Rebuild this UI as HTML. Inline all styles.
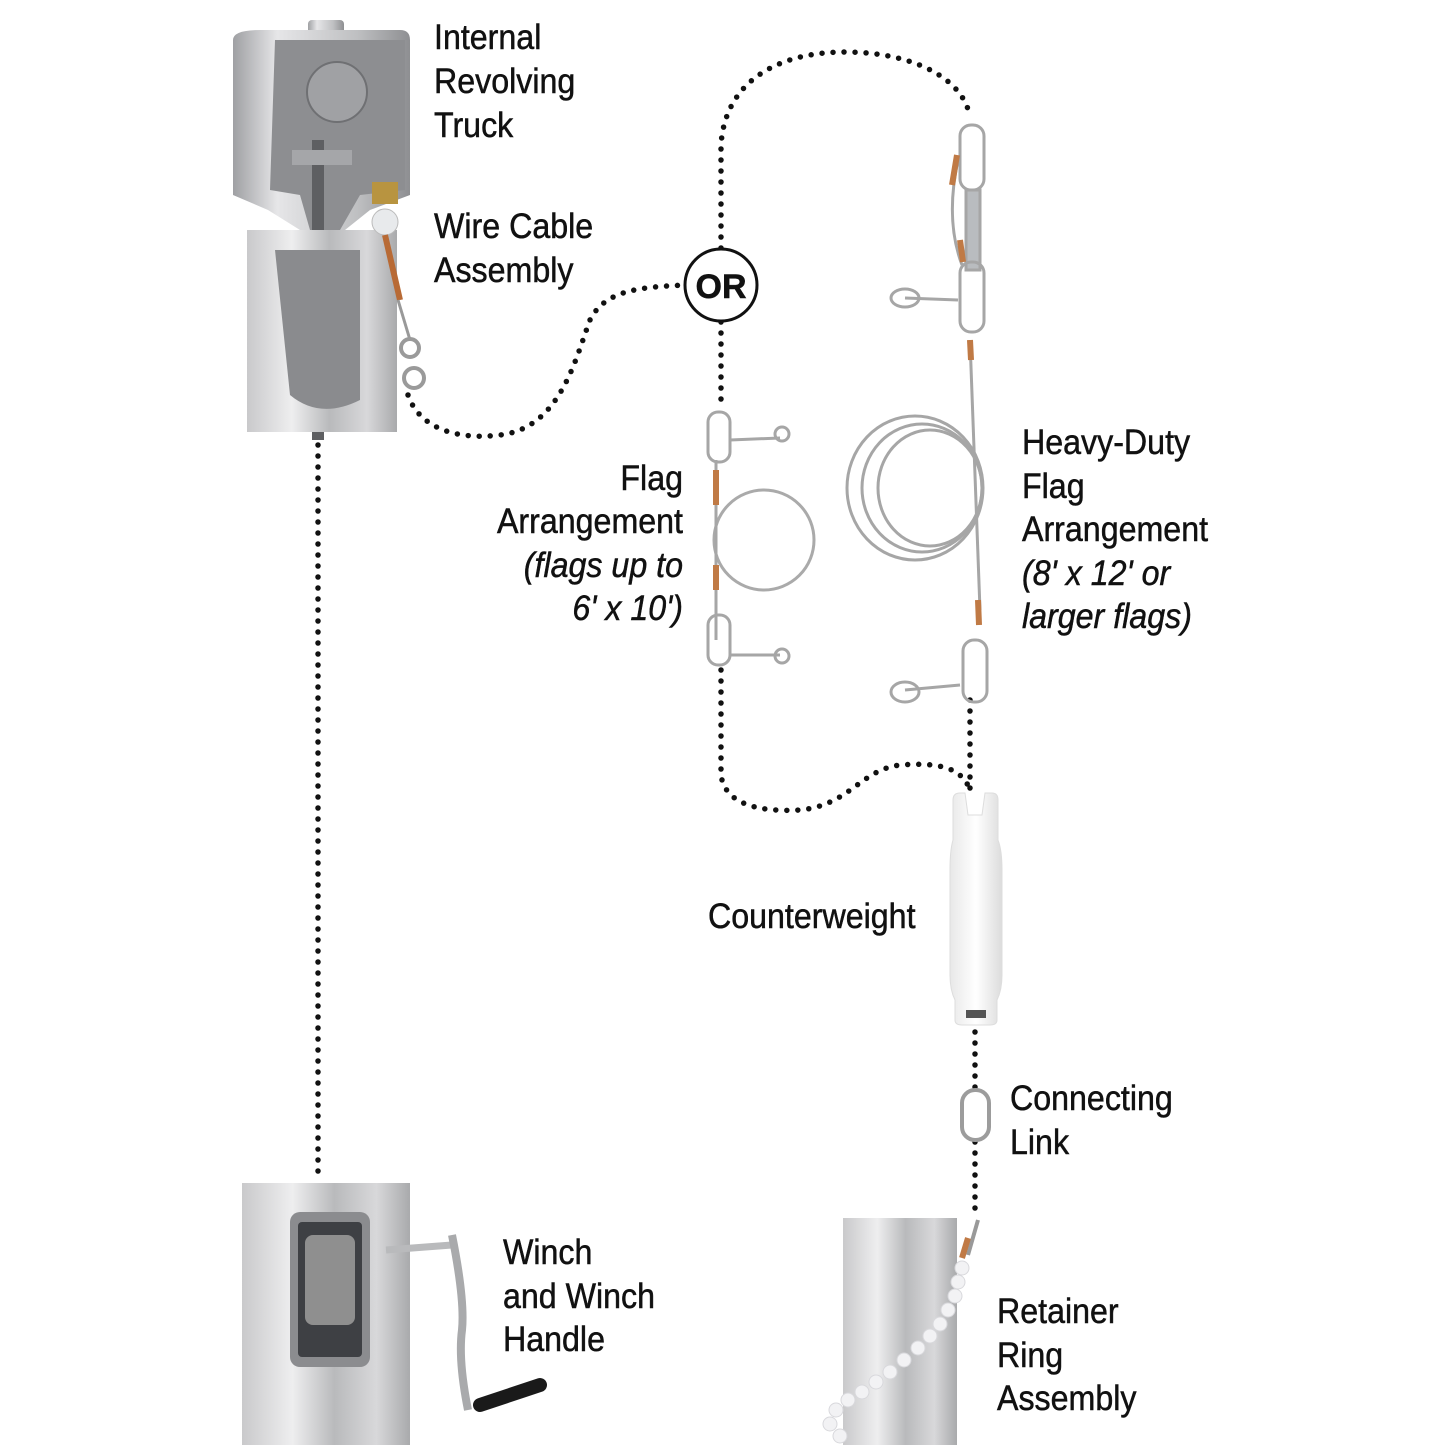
<!DOCTYPE html>
<html><head><meta charset="utf-8"><style>
html,body{margin:0;padding:0;background:#fff}
svg{display:block}
text{font-family:"Liberation Sans Narrow","Liberation Sans",sans-serif;font-size:35px;fill:#111;stroke:#111;stroke-width:0.5}
.i{font-style:italic}
</style></head><body>
<svg width="1445" height="1445" viewBox="0 0 1445 1445" xmlns="http://www.w3.org/2000/svg">
<defs>
<linearGradient id="pole" x1="0" x2="1">
<stop offset="0" stop-color="#c9c9cb"/><stop offset="0.3" stop-color="#eeeeef"/><stop offset="0.55" stop-color="#b9babc"/><stop offset="0.8" stop-color="#d8d8da"/><stop offset="1" stop-color="#a9aaac"/>
</linearGradient>
<linearGradient id="cap" x1="0" x2="1">
<stop offset="0" stop-color="#9fa0a3"/><stop offset="0.25" stop-color="#e6e6e8"/><stop offset="0.7" stop-color="#bfc0c2"/><stop offset="1" stop-color="#8e8f92"/>
</linearGradient>
<linearGradient id="cw" x1="0" x2="1">
<stop offset="0" stop-color="#e8e8e8"/><stop offset="0.5" stop-color="#fff"/><stop offset="1" stop-color="#dcdcdc"/>
</linearGradient>
</defs>
<g fill="none" stroke="#111" stroke-width="5.5" stroke-linecap="round" stroke-dasharray="0 11">
<path d="M318 445 L318 1172"/>
<path d="M408 395 C420 430 460 440 500 435 C560 428 575 360 590 320 C605 290 640 287 686 285"/>
<path d="M721 248 L721 145 C725 80 780 52 845 52 C915 52 965 80 970 118"/>
<path d="M721 322 L721 410"/>
<path d="M721 670 L721 775 C725 805 760 812 800 810 C850 805 860 770 900 765 C940 762 962 768 970 790"/>
<path d="M970 700 L970 790"/>
<path d="M975 1032 L975 1088"/>
<path d="M975 1142 L975 1212"/>
</g>
<circle cx="721" cy="285" r="36" fill="#fff" stroke="#111" stroke-width="3"/>
<text x="721" y="298" text-anchor="middle" style="font-size:34px;font-weight:bold">OR</text>

<rect x="308" y="20" width="36" height="26" rx="4" fill="url(#cap)"/>
<path d="M233 40 Q233 30 260 30 L400 30 Q410 30 410 40 L410 195 L370 210 L345 230 L300 230 L268 210 L233 195 Z" fill="url(#cap)"/>
<path d="M275 40 L405 40 L405 190 L360 195 L340 230 L310 230 L300 195 L270 190 Z" fill="#8d8e91"/>
<circle cx="337" cy="92" r="30" fill="#a0a1a4" stroke="#6f7073" stroke-width="2"/>
<rect x="312" y="140" width="12" height="300" fill="#5e5f62"/>
<rect x="292" y="150" width="60" height="15" fill="#a5a6a9"/>
<rect x="247" y="230" width="150" height="202" fill="url(#pole)"/>
<path d="M275 250 L360 250 L360 400 Q320 420 290 395 Z" fill="#8a8b8e"/>
<rect x="372" y="182" width="26" height="22" fill="#b89440"/>
<circle cx="385" cy="222" r="13" fill="#e8eaec" stroke="#bbb"/>
<path d="M385 235 L400 300" stroke="#b86a35" stroke-width="6"/>
<path d="M398 300 L410 340" stroke="#999" stroke-width="3" fill="none"/>
<circle cx="410" cy="348" r="9" fill="none" stroke="#9a9a9a" stroke-width="4"/>
<circle cx="414" cy="378" r="10" fill="none" stroke="#9a9a9a" stroke-width="4"/>

<rect x="242" y="1183" width="168" height="262" fill="url(#pole)"/>
<rect x="290" y="1212" width="80" height="155" rx="10" fill="#8b8c8f"/>
<rect x="298" y="1222" width="64" height="135" rx="4" fill="#3e4044"/>
<rect x="305" y="1235" width="50" height="90" rx="8" fill="#8f8f8f"/>
<path d="M386 1250 L452 1245" stroke="#b9babc" stroke-width="7"/>
<path d="M452 1235 Q465 1300 462 1330 Q458 1360 468 1410" stroke="#a9aaac" stroke-width="8" fill="none"/>
<path d="M480 1405 L540 1385" stroke="#1a1a1a" stroke-width="14" stroke-linecap="round"/>

<g fill="none" stroke="#a6a6a6" stroke-width="3">
<rect x="708" y="412" width="22" height="50" rx="10"/>
<path d="M730 440 L780 438"/><circle cx="782" cy="434" r="7"/>
<circle cx="764" cy="540" r="50" stroke="#aaa"/>
<path d="M716 460 L716 640"/>
<rect x="708" y="615" width="22" height="50" rx="10"/>
<path d="M730 655 L780 655"/><circle cx="782" cy="656" r="7"/>
</g>
<path d="M716 470 L716 505 M716 565 L716 590" stroke="#c07a45" stroke-width="6"/>
<g fill="none" stroke="#a6a6a6" stroke-width="3">
<rect x="960" y="125" width="24" height="65" rx="11"/>
<rect x="966" y="190" width="14" height="80" fill="#b9bcbf"/>
<path d="M958 160 Q945 220 962 265"/>
<rect x="960" y="262" width="24" height="70" rx="11"/>
<path d="M958 300 L905 298"/><ellipse cx="905" cy="298" rx="14" ry="9"/>
<path d="M970 340 L980 610"/>
<ellipse cx="915" cy="488" rx="68" ry="72"/>
<ellipse cx="922" cy="488" rx="60" ry="64"/>
<ellipse cx="930" cy="488" rx="52" ry="58"/>
<rect x="963" y="640" width="24" height="62" rx="11"/>
<path d="M960 685 L905 690"/><ellipse cx="905" cy="692" rx="14" ry="10"/>
</g>
<path d="M957 155 L952 185 M960 240 L963 262 M970 340 L971 360 M978 600 L979 625" stroke="#c07a45" stroke-width="6"/>

<path d="M953 800 Q953 793 960 793 L965 793 L968 815 L982 815 L985 793 L992 793 Q998 793 998 800 L998 840 Q1002 850 1002 870 L1002 975 Q1002 990 997 1000 L997 1020 Q997 1025 990 1025 L962 1025 Q955 1025 955 1020 L955 1000 Q950 990 950 975 L950 870 Q950 850 953 840 Z" fill="url(#cw)" stroke="#ddd"/>
<rect x="966" y="1010" width="20" height="8" fill="#555"/>
<rect x="962" y="1090" width="27" height="50" rx="13" fill="none" stroke="#9c9c9c" stroke-width="4"/>

<rect x="843" y="1218" width="114" height="227" fill="url(#pole)"/>
<path d="M978 1220 L968 1255" stroke="#999" stroke-width="4"/>
<path d="M968 1238 L962 1258" stroke="#c07a45" stroke-width="6"/>
<g fill="#f2f2f4" stroke="#d8d8dc">
<circle cx="962" cy="1268" r="7"/><circle cx="958" cy="1282" r="7"/><circle cx="955" cy="1296" r="7"/><circle cx="948" cy="1310" r="7"/><circle cx="940" cy="1324" r="7"/><circle cx="930" cy="1336" r="7"/><circle cx="918" cy="1348" r="7"/><circle cx="904" cy="1360" r="7"/><circle cx="890" cy="1372" r="7"/><circle cx="876" cy="1382" r="7"/><circle cx="862" cy="1392" r="7"/><circle cx="848" cy="1400" r="7"/><circle cx="836" cy="1410" r="7"/><circle cx="830" cy="1424" r="7"/><circle cx="840" cy="1436" r="7"/>
</g>

<g transform="translate(434,0) scale(0.92,1)">
<text x="0" y="49">Internal</text>
<text x="0" y="93">Revolving</text>
<text x="0" y="137">Truck</text>
<text x="0" y="238">Wire Cable</text>
<text x="0" y="282">Assembly</text>
</g>
<g transform="translate(683,0) scale(0.92,1)" text-anchor="end">
<text x="0" y="490">Flag</text>
<text x="0" y="533">Arrangement</text>
<text x="0" y="577" class="i">(flags up to</text>
<text x="0" y="620" class="i">6' x 10')</text>
</g>
<g transform="translate(1022,0) scale(0.92,1)">
<text x="0" y="454">Heavy-Duty</text>
<text x="0" y="498">Flag</text>
<text x="0" y="541">Arrangement</text>
<text x="0" y="585" class="i">(8' x 12' or</text>
<text x="0" y="628" class="i">larger flags)</text>
</g>
<g transform="translate(708,0) scale(0.92,1)">
<text x="0" y="928">Counterweight</text>
</g>
<g transform="translate(1010,0) scale(0.92,1)">
<text x="0" y="1110">Connecting</text>
<text x="0" y="1154">Link</text>
</g>
<g transform="translate(503,0) scale(0.92,1)">
<text x="0" y="1264">Winch</text>
<text x="0" y="1308">and Winch</text>
<text x="0" y="1351">Handle</text>
</g>
<g transform="translate(997,0) scale(0.92,1)">
<text x="0" y="1323">Retainer</text>
<text x="0" y="1367">Ring</text>
<text x="0" y="1410">Assembly</text>
</g>
</svg>
</body></html>
